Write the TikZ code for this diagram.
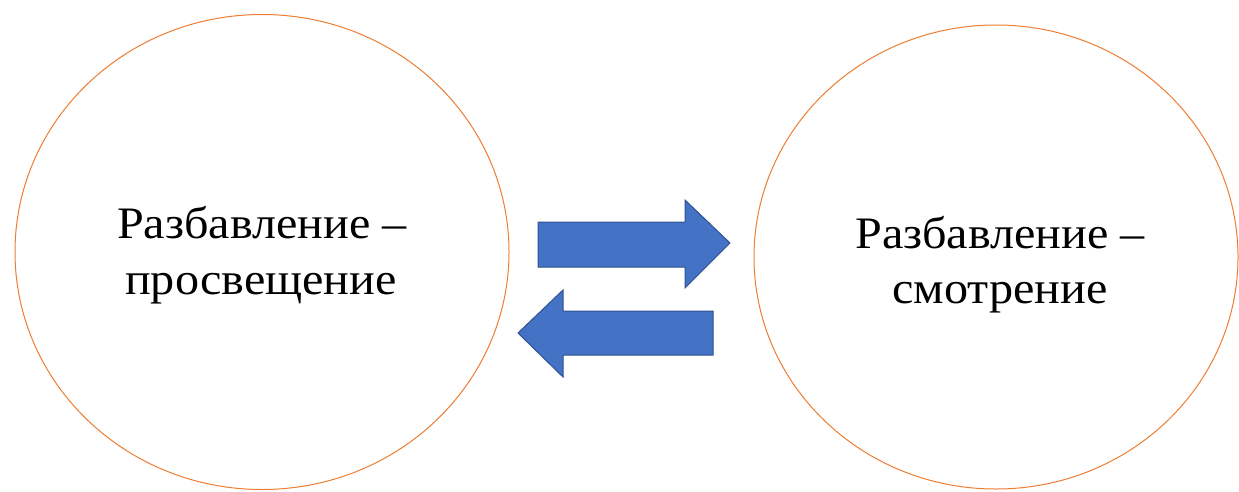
\documentclass[tikz,border=0pt]{standalone}
\usepackage{fontspec}
\setmainfont{Liberation Serif}
\usetikzlibrary{shapes.geometric}
\definecolor{ringc}{HTML}{ED7D31}
\definecolor{arrfill}{HTML}{4472C4}
\definecolor{arrline}{HTML}{2F528F}
\begin{document}
\begin{tikzpicture}[x=1pt,y=-1pt]
\tikzset{
  ring/.style={draw=ringc, line width=1pt, ellipse, inner sep=0pt},
  label/.style={align=center, inner sep=0pt, xscale=1.07, font=\fontsize{45}{56}\selectfont, text=black},
  blockarrow/.style={fill=arrfill, draw=arrline, line width=1pt, line join=miter}
}
\useasboundingbox (0,0) rectangle (1239,492);
\node[ring, minimum width=494pt, minimum height=475pt] (left) at (262,252) {};
\node[ring, minimum width=484pt, minimum height=464pt] (right) at (996,257) {};
\node[label, anchor=base] (lt1) at (262,238) {Разбавление –};
\node[label, anchor=base] (lt2) at (261,294) {просвещение};
\node[label, anchor=base] (rt1) at (1000,248) {Разбавление –};
\node[label, anchor=base] (rt2) at (1000,303) {смотрение};
\draw[blockarrow] (538,222) -- (685,222) -- (685,200) -- (730,243) -- (685,288) -- (685,267) -- (538,267) -- cycle;
\draw[blockarrow] (713,311) -- (563,311) -- (563,290) -- (518,333) -- (563,377) -- (563,355) -- (713,355) -- cycle;
\end{tikzpicture}
\end{document}
